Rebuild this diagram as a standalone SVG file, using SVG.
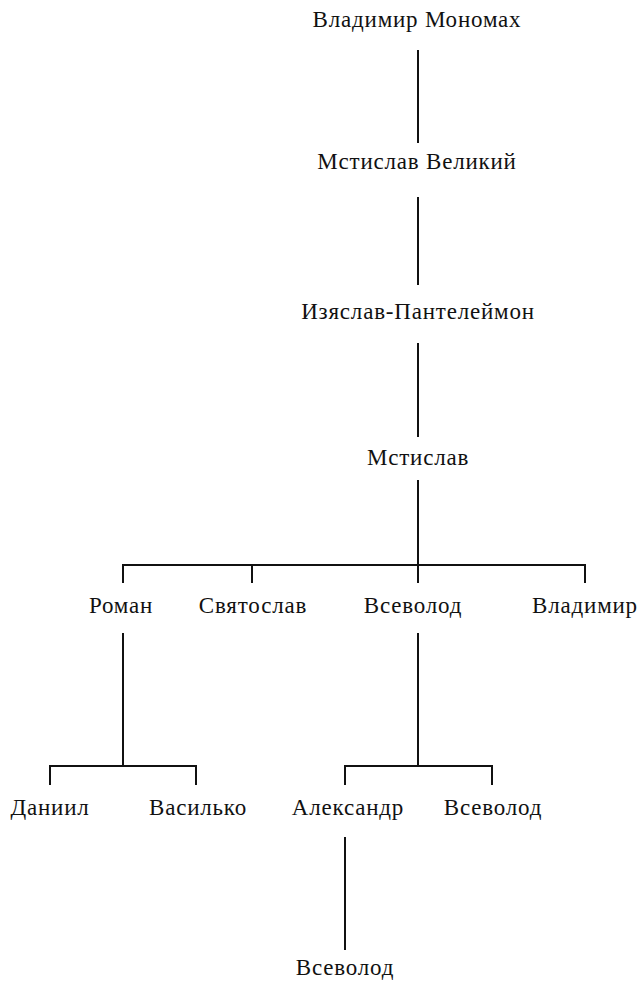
<svg xmlns="http://www.w3.org/2000/svg" width="643" height="988" viewBox="0 0 643 988">
<style>
text{font-family:"Liberation Serif","Times New Roman",serif;font-size:23px;letter-spacing:0.8px;fill:#111;text-anchor:middle}
.c{stroke:#111;stroke-width:2;fill:none}
</style>
<rect width="643" height="988" fill="#fff"/>
<g id="connectors">
<path class="c" d="M418 50V143M418 197V285M418 343V437M418 480V583M123 583V565H585V583M252 565V583"/>
<path class="c" d="M123 633V766M50 785V766H196V785"/>
<path class="c" d="M418 633V766M345 785V766H492V785"/>
<path class="c" d="M345 837V950"/>
</g>
<g id="n1"><text x="417" y="27">Владимир Мономах</text></g>
<g id="n2"><text x="417" y="169">Мстислав Великий</text></g>
<g id="n3"><text x="418" y="319">Изяслав-Пантелеймон</text></g>
<g id="n4"><text x="418" y="465">Мстислав</text></g>
<g id="n5"><text x="121" y="613">Роман</text></g>
<g id="n6"><text x="253" y="613">Святослав</text></g>
<g id="n7"><text x="413" y="613">Всеволод</text></g>
<g id="n8"><text x="585" y="613">Владимир</text></g>
<g id="n9"><text x="50" y="815">Даниил</text></g>
<g id="n10"><text x="198" y="815">Василько</text></g>
<g id="n11"><text x="348" y="815">Александр</text></g>
<g id="n12"><text x="493" y="815">Всеволод</text></g>
<g id="n13"><text x="345" y="975">Всеволод</text></g>
</svg>
